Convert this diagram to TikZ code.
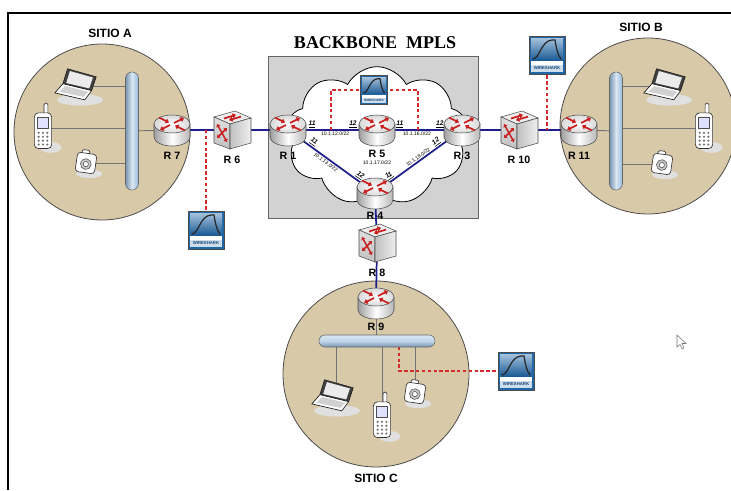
\documentclass[tikz,border=0pt]{standalone}
\usepackage{fontspec}
\setmainfont{Liberation Sans}
\setsansfont{Liberation Sans}
\newfontfamily\titlefont{Liberation Serif}
\usepackage{tikz}
\usetikzlibrary{arrows.meta, positioning, shapes.symbols}
\definecolor{sitetan}{HTML}{D8C9A9}
\definecolor{linkblue}{HTML}{1E1E8C}
\definecolor{tapred}{HTML}{D42A2A}
\definecolor{boxgray}{HTML}{D2D2D2}
\definecolor{sharkblue}{HTML}{1F66A6}
\definecolor{tubeblue}{HTML}{96BADC}
\definecolor{arrowred}{HTML}{C81E1E}

\pgfdeclarelayer{back}
\pgfdeclarelayer{wires}
\pgfsetlayers{back,wires,main}

% device icons, in pixel units (y grows downwards)
\tikzset{
  redtip/.style={draw=arrowred, line width=1.3pt, -{Triangle[length=2.6pt,width=3.8pt]}},
  redtwin/.style={draw=arrowred, line width=1.1pt, {Triangle[length=2.2pt,width=3.2pt]}-{Triangle[length=2.2pt,width=3.2pt]}},
  router icon/.pic={
    \shade[left color=black!38, right color=black!28, middle color=white, draw=black!70, line width=0.4pt]
      (-18,-6) -- (-18,7) arc (180:0:18 and 9) -- (18,-6) -- cycle;
    \shade[inner color=white, outer color=black!15, draw=black!70, line width=0.4pt]
      (0,-6) ellipse (18 and 9);
    \begin{scope}[shift={(0,-6)}, yscale=0.5]
      \draw[redtip] (2,-2) -- (12,-12);
      \draw[redtip] (-2,2) -- (-12,12);
      \draw[redtip] (-13,-13) -- (-3,-3);
      \draw[redtip] (13,13) -- (3,3);
    \end{scope}
  },
  switch icon/.pic={
    \fill[black!7, draw=black!70, line width=0.4pt] (-18,-13) -- (3,-19) -- (19,-12) -- (-2,-6) -- cycle;
    \shade[top color=black!12, bottom color=black!25, draw=black!70, line width=0.4pt]
      (-18,-13) -- (-2,-6) -- (-2,19) -- (-18,13) -- cycle;
    \shade[left color=black!25, right color=black!6, draw=black!70, line width=0.4pt]
      (-2,-6) -- (19,-12) -- (19,13) -- (-2,19) -- cycle;
    \draw[redtip] (-8,-11.5) -- (4,-15.2);
    \draw[redtip] (9,-13.4) -- (-3,-9.8);
    \draw[redtwin] (-15,-6) -- (-5,12);
    \draw[redtwin] (-5,-2) -- (-15,8);
  },
  laptop icon/.pic={
    \fill[black!12] (1,12) ellipse (20 and 5);
    \fill[black!75, draw=black!90, line width=0.4pt] (-10,-15) -- (15,-8) -- (11,4) -- (-14,-2) -- cycle;
    \fill[black!8] (-7.9,-13) -- (12.1,-7.4) -- (8.9,2.1) -- (-11.1,-2.6) -- cycle;
    \fill[white, draw=black!90, line width=0.5pt] (-14,-2) -- (11,4) -- (5,12) -- (-21,6) -- cycle;
    \fill[black!18] (-12,0) -- (8,5) -- (4,9.5) -- (-17,5) -- cycle;
  },
  phone icon/.pic={
    \fill[black!12] (7,18) ellipse (10 and 5);
    \draw[black!80, line width=0.5pt, fill=white, rounded corners=1pt] (1,-23) rectangle (4.5,-13);
    \draw[black!80, line width=0.5pt, fill=white, rounded corners=3pt] (-8,-14) rectangle (8,19);
    \draw[black!70, line width=0.4pt, fill=blue!12] (-5,-10) rectangle (5,0);
    \foreach \i in {-1,0,1}
      \foreach \j in {0,...,3}
        \fill[black!55] (4*\i,4.5+3.6*\j) circle (1.1);
  },
  camera icon/.pic={
    \fill[black!12] (3,10) ellipse (12 and 4);
    \begin{scope}[rotate=-8]
      \draw[black!80, line width=0.5pt, fill=white, rounded corners=1pt] (-5,-12) rectangle (2,-8);
      \draw[black!80, line width=0.5pt, fill=white, rounded corners=2.5pt] (-9,-9) rectangle (9,9);
      \draw[black!70, line width=0.4pt, fill=black!22] (0,1) circle (5);
      \draw[black!70, line width=0.4pt, fill=white] (0,1) circle (2.4);
    \end{scope}
  },
  shark icon/.pic={
    \draw[black!70, line width=0.4pt, fill=sharkblue] (-18,-19) rectangle (18,19);
    \shade[top color=sharkblue!40, bottom color=sharkblue!90!black] (-16,-17) rectangle (16,5);
    \draw[black!85, line width=0.9pt] (-14,4) .. controls (-7,3) and (-6,-14) .. (5,-15)
      -- (8,-15) .. controls (9,-8) and (11,1) .. (14,4);
    \fill[white] (-16,6) rectangle (16,10);
    \fill[sharkblue!22] (-16,10) rectangle (16,17);
  },
}

\begin{document}
\begin{tikzpicture}[x=0.75pt, y=-0.75pt,
    lbl/.style={font=\bfseries\fontsize{8}{9}\selectfont, inner sep=1pt},
    sitelbl/.style={font=\bfseries\fontsize{9}{10}\selectfont},
    title/.style={font=\titlefont\bfseries\fontsize{13.5}{15}\selectfont},
    iplbl/.style={font=\fontsize{3.8}{4.2}\selectfont, inner sep=0.8pt},
    ifl/.style={font=\bfseries\itshape\fontsize{5}{5.5}\selectfont, inner sep=0.6pt},
    router/.style={inner sep=0pt, minimum width=28.5pt, minimum height=26pt,
      path picture={\pic at (path picture bounding box.center) {router icon};}},
    switch/.style={inner sep=0pt, minimum width=30pt, minimum height=30pt,
      path picture={\pic at (path picture bounding box.center) {switch icon};}},
    laptop/.style={inner sep=0pt, minimum width=38pt, minimum height=29pt,
      path picture={\pic[scale=1.15] at (path picture bounding box.center) {laptop icon};}},
    phone/.style={inner sep=0pt, minimum width=28pt, minimum height=39pt,
      path picture={\pic[scale=1.08] at (path picture bounding box.center) {phone icon};}},
    camera/.style={inner sep=0pt, minimum width=26pt, minimum height=26pt,
      path picture={\pic[scale=1.08] at (path picture bounding box.center) {camera icon};}},
    shark/.style={inner sep=0pt, minimum width=28.5pt, minimum height=30pt,
      text=sharkblue!70!black, font=\bfseries\fontsize{3.2}{3.5}\selectfont,
      path picture={\pic at (path picture bounding box.center) {shark icon};}},
    smallshark/.style={inner sep=0pt, minimum width=21.5pt, minimum height=22.5pt,
      text=sharkblue!70!black, font=\bfseries\fontsize{2.4}{2.6}\selectfont,
      path picture={\pic[scale=0.75] at (path picture bounding box.center) {shark icon};}},
    vtube/.style={rectangle, rounded corners=4.8pt, draw=black!60, line width=0.4pt,
      left color=tubeblue!80!black, right color=tubeblue, middle color=tubeblue!35,
      minimum width=9.75pt, minimum height=88.5pt, inner sep=0pt},
    htube/.style={rectangle, rounded corners=4.4pt, draw=black!60, line width=0.4pt,
      top color=tubeblue!35, bottom color=tubeblue!80!black, middle color=tubeblue!60,
      minimum width=87pt, minimum height=9pt, inner sep=0pt},
    site/.style={fill=sitetan, draw=black!70, line width=0.6pt},
    link/.style={draw=linkblue, line width=1.3pt},
    tap/.style={draw=tapred, line width=1.1pt, dash pattern=on 2.6pt off 1.8pt},
    wire/.style={draw=black!55, line width=0.7pt},
]
\useasboundingbox (0,0) rectangle (731,490);
\draw[line width=2pt] (8,490) -- (8,13) -- (731,13);

\begin{pgfonlayer}{back}
  \draw[site] (102,132) circle (88);
  \draw[site] (648,126) circle (88);
  \draw[site] (376,374) circle (93);
  \draw[fill=boxgray, draw=black!60, line width=0.6pt] (268,56) rectangle (478,218);
  \node[cloud, cloud puffs=9, cloud puff arc=125, aspect=1.3, draw, fill=white, line width=0.6pt,
        minimum width=138pt, minimum height=104pt, inner sep=0pt] (mpls) at (377,136) {};
\end{pgfonlayer}

\node[title] (ttl) at (375,43) {BACKBONE\ \ MPLS};
\node[sitelbl] (sA) at (110,33) {SITIO A};
\node[sitelbl] (sB) at (641,27) {SITIO B};
\node[sitelbl] (sC) at (376,478) {SITIO C};

% sitio A
\node[vtube] (busA) at (132,131) {};
\node[laptop] (lapA) at (79,86) {};
\node[phone] (phA) at (43,128) {};
\node[camera] (camA) at (86,163) {};
\node[router] (r7) at (172,130) {};
\node[switch] (r6) at (232,130) {};
\node[shark] (wsA) at (206,230) {\raisebox{-11.2pt}[0pt][0pt]{WIRESHARK}};

% backbone
\node[router] (r1) at (288,130) {};
\node[router] (r5) at (377,130) {};
\node[router] (r3) at (462,130) {};
\node[router] (r4) at (375,193) {};
\node[smallshark] (wsM) at (374,90) {\raisebox{-8.4pt}[0pt][0pt]{WIRESHARK}};

% sitio B
\node[switch] (r10) at (519,130) {};
\node[router] (r11) at (579,130) {};
\node[vtube] (busB) at (616,131) {};
\node[laptop] (lapB) at (668,86) {};
\node[phone] (phB) at (704,128) {};
\node[camera] (camB) at (662,164) {};
\node[shark] (wsB) at (547,55) {\raisebox{-11.2pt}[0pt][0pt]{WIRESHARK}};

% sitio C
\node[switch] (r8) at (377,243) {};
\node[router] (r9) at (376,303) {};
\node[htube] (busC) at (377,341) {};
\node[laptop] (lapC) at (336,397) {};
\node[phone] (phC) at (382,417) {};
\node[camera] (camC) at (415,393) {};
\node[shark] (wsC) at (516,371) {\raisebox{-11.2pt}[0pt][0pt]{WIRESHARK}};

\node[lbl, below=2pt of r7] (l7) {R 7};
\node[lbl, below=3pt of r6] (l6) {R 6};
\node[lbl, below=2pt of r1] (l1) {R 1};
\node[lbl, below=1pt of r5] (l5) {R 5};
\node[iplbl, below=0pt of l5] (n17) {10.1.17.0/22};
\node[lbl, below=2pt of r3] (l3) {R 3};
\node[lbl, below=0pt of r4] (l4) {R 4};
\node[lbl, below=3pt of r10] (l10) {R 10};
\node[lbl, below=2pt of r11] (l11) {R 11};
\node[lbl, below=3pt of r8] (l8) {R 8};
\node[lbl, below=1pt of r9] (l9) {R 9};

\draw[black!55, fill=white, line width=0.4pt] (677,335) -- (677,347) -- (680,344.5) -- (682,349)
  -- (684,348) -- (682,343.5) -- (686,343.5) -- cycle;

\begin{pgfonlayer}{wires}
  \draw[link] (r7.center) -- (r6.center) -- (r1.center);
  \draw[link] (r1.center) -- node[ifl, above, pos=0.27] (i1a) {\underline{11}}
                             node[iplbl, below, pos=0.53] (n12) {10.1.12.0/22}
                             node[ifl, above, pos=0.73] (i5a) {\underline{12}} (r5.center);
  \draw[link] (r5.center) -- node[ifl, above, pos=0.27] (i5b) {\underline{11}}
                             node[iplbl, below, pos=0.47] (n16) {10.1.16.0/22}
                             node[ifl, above, pos=0.74] (i3a) {\underline{12}} (r3.center);
  \draw[link] (r1.center) -- node[ifl, above, sloped, pos=0.26] (i1b) {\underline{11}}
                             node[iplbl, below, sloped, pos=0.46] (n13) {10.1.13.0/22}
                             node[ifl, above, sloped, pos=0.79] (i4a) {\underline{12}} (r4.center);
  \draw[link] (r3.center) -- node[ifl, above, sloped, pos=0.26] (i3b) {\underline{12}}
                             node[iplbl, above, sloped, pos=0.48] (n18) {10.1.18.0/22}
                             node[ifl, above, sloped, pos=0.8] (i4b) {\underline{11}} (r4.center);
  \draw[link] (r3.center) -- (r10.center) -- (r11.center);
  \draw[link] (r4.center) -- (r8.center) -- (r9.center);

  \draw[wire] (lapA.center) -- (lapA -| busA);
  \draw[wire] (phA.center) -- (phA -| busA);
  \draw[wire] (camA.center) -- (camA -| busA);
  \draw[wire] (busA.center) -- (r7.center);
  \draw[wire] (lapB.center) -- (lapB -| busB);
  \draw[wire] (phB.center) -- (phB -| busB);
  \draw[wire] (camB.center) -- (camB -| busB);
  \draw[wire] (r11.center) -- (busB.center);
  \draw[wire] (r9.center) -- (r9 |- busC);
  \draw[wire] (lapC.center) -- (lapC |- busC);
  \draw[wire] (phC.center) -- (phC |- busC);
  \draw[wire] (camC.center) -- (camC |- busC);

  \coordinate (tapL) at (331,130);
  \coordinate (tapR) at (418,130);
  \coordinate (tapC) at (399,341);
  \draw[tap] (wsA.north) -- (wsA.north |- r7);
  \draw[tap] (wsB.south) -- (wsB.south |- r10);
  \draw[tap] (tapL) |- (wsM.west);
  \draw[tap] (tapR) |- (wsM.east);
  \draw[tap] (tapC) |- (wsC.west);
\end{pgfonlayer}
\end{tikzpicture}
\end{document}
